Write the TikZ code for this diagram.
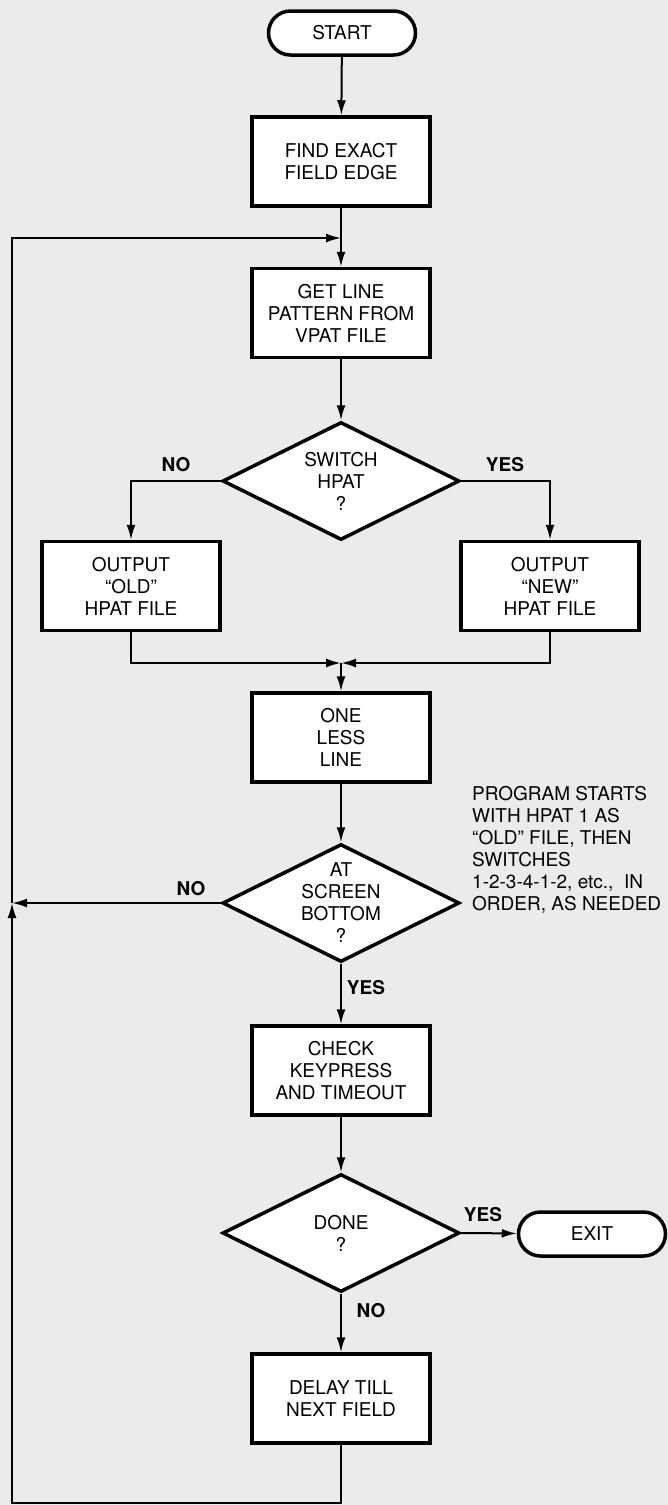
\documentclass[tikz,border=0pt]{standalone}
\usepackage{fontspec}
\setmainfont{TeX Gyre Heros}
\usetikzlibrary{shapes.geometric,arrows.meta}

\begin{document}
\begin{tikzpicture}[x=1pt,y=-1pt,
 every node/.style={font=\fontsize{19}{22}\selectfont,align=center},
 proc/.style={rectangle,draw,line width=3.5pt,fill=white,minimum width=178pt,minimum height=89pt,inner sep=0pt},
 term/.style={rectangle,rounded corners=22pt,draw,line width=3.5pt,fill=white,minimum width=147pt,minimum height=44pt,inner sep=0pt},
 dec/.style={diamond,draw,line width=3.5pt,fill=white,minimum width=237pt,minimum height=118pt,inner sep=0pt,label={[align=center]center:#1}},
 ans/.style={font=\fontsize{19}{22}\selectfont\bfseries},
 flow/.style={line width=2pt,-{Latex[length=15pt,width=9pt]}},
 wire/.style={line width=2pt}]
\useasboundingbox (0,0) rectangle (668,1505);
\fill[black!8] (0,0) rectangle (668,1505);
\node[term] (start) at (342,33) {START};
\node[proc] (find) at (341,161.5) {FIND EXACT\\FIELD EDGE};
\node[proc] (get) at (341,313) {GET LINE\\PATTERN FROM\\VPAT FILE};
\node[dec={SWITCH\\HPAT\\?}] (sw) at (341,481) {};
\node[proc] (old) at (131,586) {OUTPUT\\``OLD''\\HPAT FILE};
\node[proc] (new) at (550,586) {OUTPUT\\``NEW''\\HPAT FILE};
\node[proc] (less) at (341,737.5) {ONE\\LESS\\LINE};
\node[dec={AT\\SCREEN\\BOTTOM\\?}] (bot) at (341,903) {};
\node[proc] (chk) at (341,1070.5) {CHECK\\KEYPRESS\\AND TIMEOUT};
\node[dec={DONE\\?}] (done) at (341,1233) {};
\node[term] (exit) at (592,1234) {EXIT};
\node[proc] (delay) at (341,1398.5) {DELAY TILL\\NEXT FIELD};
\coordinate (top) at (341,238);
\coordinate (mrg) at (341,663);
\coordinate (nol) at (12,903);
\coordinate (btm) at (12,1503);
\draw[flow] (start) -- (find);
\draw[wire] (find) -- (top);
\draw[flow] (top) -- (get);
\draw[flow] (get) -- (sw);
\draw[flow] (sw.west) -| (old);
\draw[flow] (sw.east) -| (new);
\draw[flow] (old) |- (mrg);
\draw[flow] (new) |- (mrg);
\draw[flow] (mrg) -- (less);
\draw[flow] (less) -- (bot);
\draw[flow] (bot.west) -- (nol);
\draw[flow] (bot) -- (chk);
\draw[flow] (chk) -- (done);
\draw[flow] (done.east) -- (exit);
\draw[flow] (done) -- (delay);
\draw[flow] (delay) |- (btm) -- (nol);
\draw[flow] (nol) |- (top);
\node[ans] (n1) at (176,465) {NO};
\node[ans] (y1) at (505,465) {YES};
\node[ans] (n2) at (191,889) {NO};
\node[ans] (y2) at (366,988) {YES};
\node[ans] (y3) at (483,1215) {YES};
\node[ans] (n3) at (371,1311) {NO};
\node[anchor=north west,align=left,inner sep=0pt] (note) at (472,786)
 {PROGRAM STARTS\\WITH HPAT 1 AS\\``OLD'' FILE, THEN\\SWITCHES\\1-2-3-4-1-2, etc.,\ \ IN\\ORDER, AS NEEDED};
\end{tikzpicture}
\end{document}
